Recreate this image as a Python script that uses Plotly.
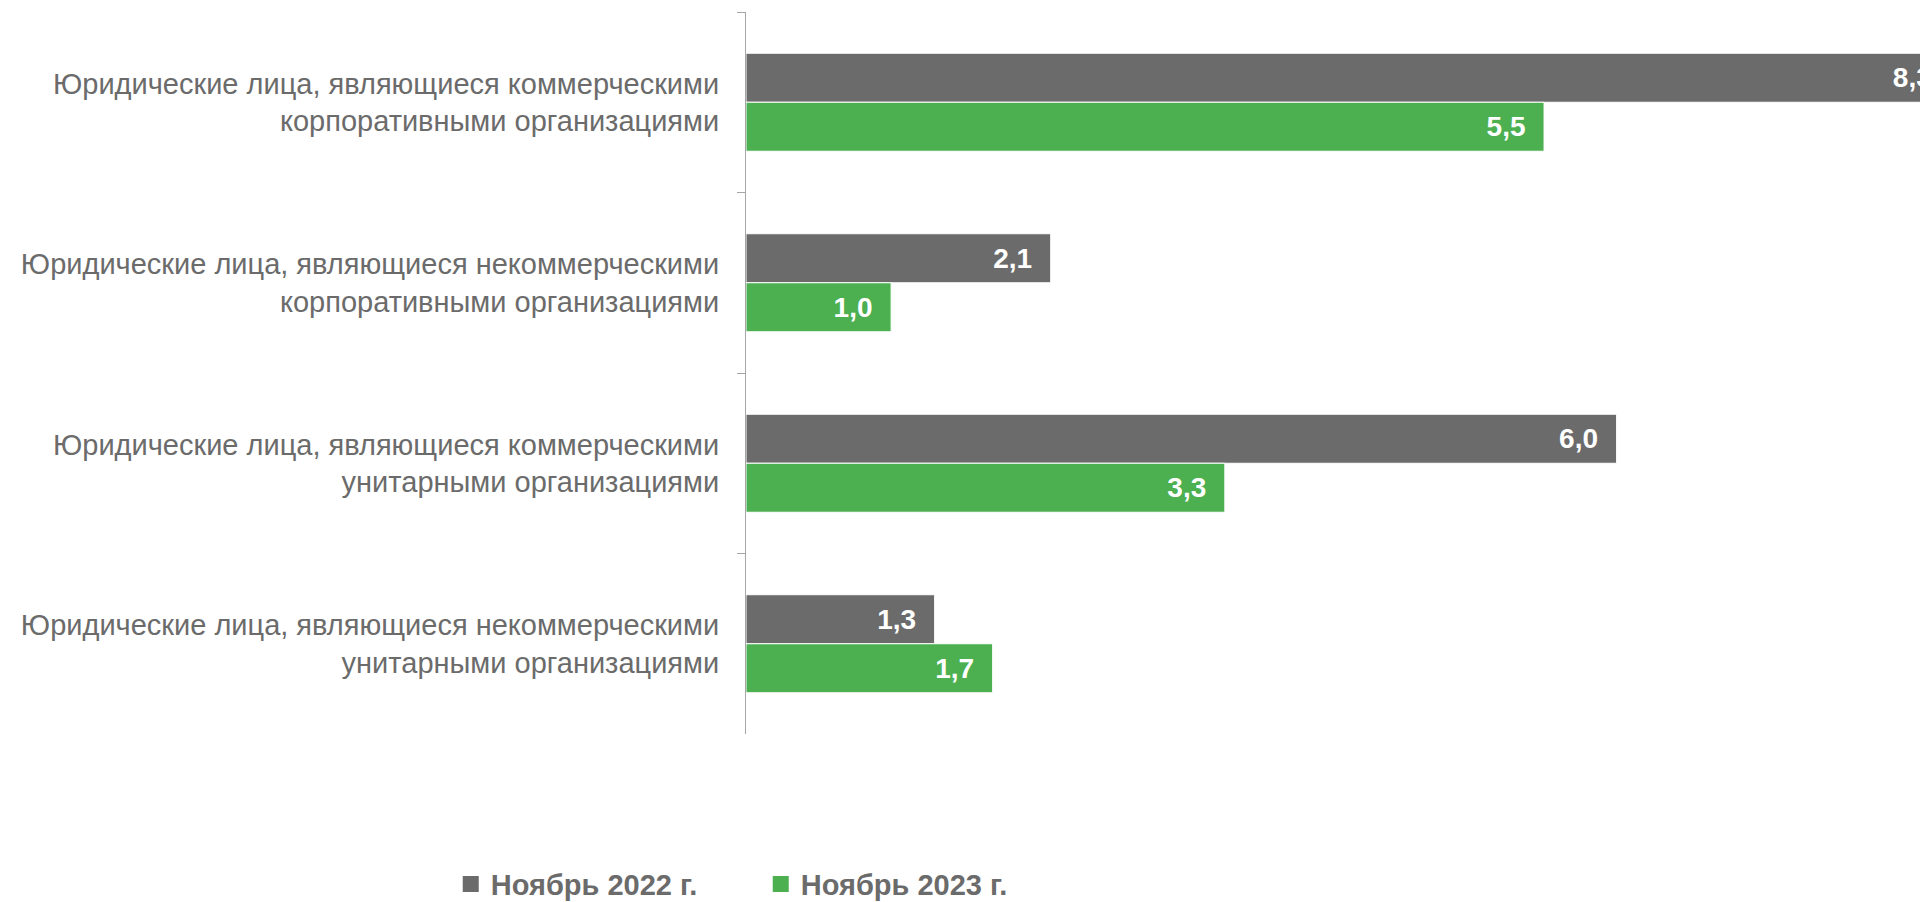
import plotly.graph_objects as go

categories = [
    "Юридические лица, являющиеся коммерческими<br>корпоративными организациями",
    "Юридические лица, являющиеся некоммерческими<br>корпоративными организациями",
    "Юридические лица, являющиеся коммерческими<br>унитарными организациями",
    "Юридические лица, являющиеся некоммерческими<br>унитарными организациями",
]
series_names = ["Ноябрь 2022 г.", "Ноябрь 2023 г."]
values_2022 = [8.3, 2.1, 6.0, 1.3]
values_2023 = [5.5, 1.0, 3.3, 1.7]

colors = ["#6b6b6b", "#4caf50"]
text_gray = "#6b6b6b"
font_family = "Liberation Sans, Arial, sans-serif"

fig = go.Figure()
for name, vals, col in zip(series_names, [values_2022, values_2023], colors):
    fig.add_trace(go.Bar(
        y=categories, x=vals, name=name, orientation="h",
        marker=dict(color=col, line=dict(color="white", width=1)),
        texttemplate="%{x:.1f}\u00a0\u00a0",
        textposition="inside", insidetextanchor="end", textangle=0,
        constraintext="none",
        textfont=dict(family=font_family, size=28, color="white", weight="bold"),
        showlegend=False, cliponaxis=True,
    ))
    fig.add_trace(go.Scatter(
        x=[None], y=[None], mode="markers", name=name,
        marker=dict(symbol="square", size=24, color=col),
        showlegend=True,
    ))

fig.update_layout(
    width=1912, height=902,
    margin=dict(l=738, r=0, t=4, b=176),
    plot_bgcolor="white", paper_bgcolor="white",
    separators=", ",
    barmode="group", bargap=0.457, bargroupgap=0,
    font=dict(family=font_family, color=text_gray),
    xaxis=dict(range=[0, 8.091], visible=False, showgrid=False, zeroline=False),
    yaxis=dict(
        autorange="reversed", showline=True, linecolor="#a6a6a6", linewidth=1,
        ticks="outside", tickson="boundaries", ticklen=8, tickcolor="#a6a6a6",
        tickfont=dict(family=font_family, size=29, color=text_gray),
        showgrid=False, zeroline=False, ticklabelstandoff=20,
    ),
    legend=dict(
        orientation="h", x=-0.2515, xanchor="left", y=-0.2078, yanchor="middle",
        font=dict(family=font_family, size=29, color=text_gray, weight="bold"),
        entrywidth=265, entrywidthmode="pixels", traceorder="normal",
    ),
)

fig.write_html("out.html")
